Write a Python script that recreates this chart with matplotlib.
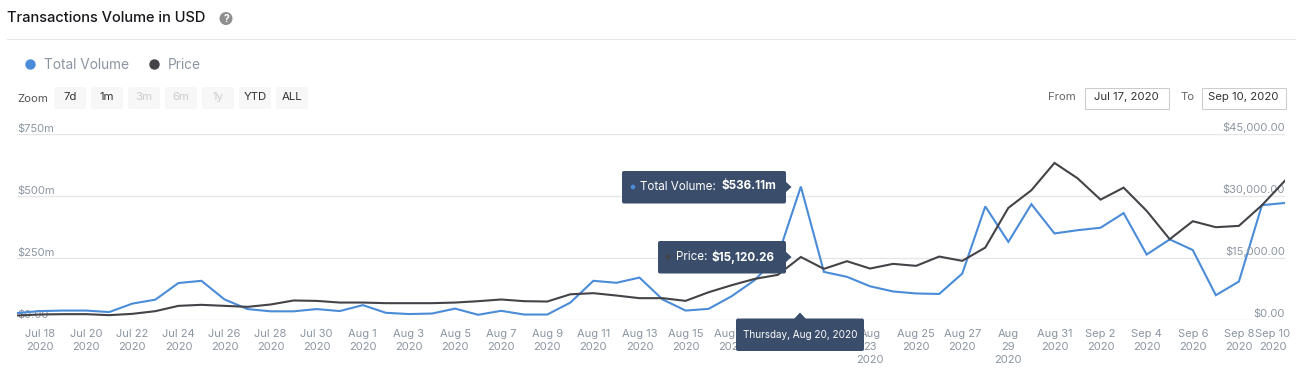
import matplotlib
matplotlib.use('Agg')
import matplotlib.pyplot as plt
import pandas as pd
from matplotlib.patches import Circle, Polygon, Rectangle, FancyBboxPatch
from matplotlib.transforms import ScaledTranslation

plt.rcParams['font.family'] = ['Inter', 'DejaVu Sans']

dates = pd.date_range('2020-07-17', '2020-09-10')

# millions of USD
total_volume = [26, 34, 36, 36, 30, 64, 80, 147, 156, 81, 42, 33, 33, 42, 34, 58, 27, 22,
                24, 44, 19, 35, 20, 20, 68, 156, 148, 169, 81, 36, 43, 94, 159, 255, 536,
                192, 172, 134, 113, 105, 103, 185, 456, 313, 465, 347, 360, 370, 429, 262,
                323, 280, 98, 153, 461, 470]

price = [970, 1210, 1290, 1290, 1050, 1370, 2015, 3300, 3550, 3300, 3060, 3630, 4600, 4500,
         4100, 4100, 3950, 3950, 3950, 4100, 4430, 4840, 4430, 4350, 6100, 6370, 5800, 5160,
         5160, 4510, 6600, 8300, 9830, 10800, 15120, 12250, 14100, 12330, 13460, 12980,
         15230, 14190, 17400, 27000, 31270, 37880, 34170, 29000, 31900, 26280, 19420, 23780,
         22330, 22650, 27650, 33600]

tick_dates = pd.date_range('2020-07-18', '2020-09-10', freq='2D')
tick_labels = ['Jul 18\n2020', 'Jul 20\n2020', 'Jul 22\n2020', 'Jul 24\n2020', 'Jul 26\n2020',
               'Jul 28\n2020', 'Jul 30\n2020', 'Aug 1\n2020', 'Aug 3\n2020', 'Aug 5\n2020',
               'Aug 7\n2020', 'Aug 9\n2020', 'Aug 11\n2020', 'Aug 13\n2020', 'Aug 15\n2020',
               'Aug 17\n2020', 'Aug 19\n2020', 'Aug 21\n2020', 'Aug\n23\n2020', 'Aug 25\n2020',
               'Aug 27\n2020', 'Aug\n29\n2020', 'Aug 31\n2020', 'Sep 2\n2020', 'Sep 4\n2020',
               'Sep 6\n2020', 'Sep 8\n2020', 'Sep 10\n2020']

left_ticks = [0, 250, 500, 750]
left_labels = ['$0.00', '$250m', '$500m', '$750m']
right_ticks = [0, 15000, 30000, 45000]
right_labels = ['$0.00', '$15,000.00', '$30,000.00', '$45,000.00']

BLUE = '#4a8cd8'
DARK = '#434348'
GREY = '#8b95a1'
TOOLTIP = '#3a4d6b'

W, H = 1301, 377
fig = plt.figure(figsize=(W / 100, H / 100), dpi=100)

ax = fig.add_axes([17 / W, 1 - 319.5 / H, (1285 - 17) / W, 186 / H])
ax2 = ax.twinx()

ax.plot(dates, total_volume, color=BLUE, lw=1.5, solid_joinstyle='miter', zorder=3)
ax2.plot(dates, price, color=DARK, lw=1.5, solid_joinstyle='miter', zorder=3)

ax.set_xlim(dates[0], dates[-1])
ax.set_ylim(0, 750)
ax2.set_ylim(0, 45000)

for s in ['top', 'left', 'right', 'bottom']:
    ax.spines[s].set_visible(False)
    ax2.spines[s].set_visible(False)

ax.set_xticks(tick_dates)
ax.set_xticklabels(tick_labels, fontsize=8, color=GREY, linespacing=1.38)
ax.tick_params(axis='x', length=0, pad=7)

ax.set_yticks(left_ticks)
ax.set_yticklabels(left_labels, fontsize=8, color=GREY, ha='left', va='bottom')
ax.tick_params(axis='y', length=0, pad=0)
ax.grid(True, axis='y', color='#e6e6e6', lw=1)
ax.set_axisbelow(True)

ax2.set_yticks(right_ticks)
ax2.set_yticklabels(right_labels, fontsize=8, color=GREY, ha='right', va='bottom')
ax2.tick_params(axis='y', length=0, pad=0)
for lab in ax.get_yticklabels():
    lab.set_x(0)
    lab.set_transform(lab.get_transform() + ScaledTranslation(0, -0.5 / 100, fig.dpi_scale_trans))
for lab in ax2.get_yticklabels():
    lab.set_transform(lab.get_transform() + ScaledTranslation(0, 0.5 / 100, fig.dpi_scale_trans))

# last label is pushed back inside the chart
last = ax.get_xticklabels()[-1]
last.set_transform(last.get_transform() + ScaledTranslation(-12 / 100, 0, fig.dpi_scale_trans))

# page furniture and tooltips, in pixels
ui = fig.add_axes([0, 0, 1, 1], zorder=10)
ui.set_xlim(0, W)
ui.set_ylim(H, 0)
ui.axis('off')
ui.patch.set_alpha(0)

ui.text(7, 18, 'Transactions Volume in USD', fontsize=10.55, color='#16181c', weight='medium', va='center')
ui.add_patch(Circle((226, 18.5), 6.5, color='#8f8f8f', lw=0))
ui.text(226, 18.5, '?', fontsize=7.5, color='white', weight='bold', ha='center', va='center')
ui.plot([7, 1295], [38.5, 38.5], color='#e4e7ea', lw=0.75)

ui.add_patch(Circle((30.5, 64.5), 5.2, color=BLUE, lw=0))
ui.text(44, 65, 'Total Volume', fontsize=9.85, color=GREY, va='center')
ui.add_patch(Circle((154.5, 64.5), 5.2, color=DARK, lw=0))
ui.text(168, 65, 'Price', fontsize=9.85, color=GREY, va='center')

ui.text(17, 98.5, 'Zoom', fontsize=8.2, color='#555555', va='center')
buttons = ['7d', '1m', '3m', '6m', '1y', 'YTD', 'ALL']
for i, b in enumerate(buttons):
    x0 = 54 + 37 * i
    ui.add_patch(FancyBboxPatch((x0 + 1, 88), 30, 20, boxstyle='round,pad=1,rounding_size=2',
                                fc='#f7f7f7', ec='none'))
    c = '#cccccc' if b in ['3m', '6m', '1y'] else '#333333'
    ui.text(x0 + 16, 97.5, b, fontsize=8.2, color=c, ha='center', va='center')

ui.text(1048, 97, 'From', fontsize=8.2, color='#666666', va='center')
ui.text(1180, 97, 'To', fontsize=8.2, color='#666666', va='center')
ui.add_patch(Rectangle((1084.5, 87.5), 84, 21, fc='white', ec='#cccccc', lw=0.75))
ui.add_patch(Rectangle((1201.5, 87.5), 84, 21, fc='white', ec='#cccccc', lw=0.75))
ui.text(1126.5, 97, 'Jul 17, 2020', fontsize=8.2, color='#333333', ha='center', va='center')
ui.text(1243.5, 97, 'Sep 10, 2020', fontsize=8.2, color='#333333', ha='center', va='center')


def tip_box(x0, y0, x1, y1):
    ui.add_patch(FancyBboxPatch((x0 + 2, y0 + 2), x1 - x0 - 4, y1 - y0 - 4,
                                boxstyle='round,pad=2,rounding_size=2', fc=TOOLTIP, ec='none'))


tip_box(622, 171, 786, 203.5)
ui.add_patch(Polygon([(785, 181), (791.5, 187), (785, 193)], fc=TOOLTIP, ec='none'))
ui.add_patch(Circle((633, 187), 2.3, color=BLUE, lw=0))
ui.text(640, 186.5, 'Total Volume:', fontsize=8.4, color='white', va='center')
ui.text(776, 186.5, '$536.11m', fontsize=8.4, color='white', weight='bold', ha='right', va='center')

tip_box(658, 241, 786, 273.5)
ui.add_patch(Polygon([(785, 251), (791.5, 257), (785, 263)], fc=TOOLTIP, ec='none'))
ui.add_patch(Circle((668, 257), 2.3, color=DARK, lw=0))
ui.text(676, 256.5, 'Price:', fontsize=8.4, color='white', va='center')
ui.text(775, 256.5, '$15,120.26', fontsize=8.4, color='white', weight='bold', ha='right', va='center')

tip_box(736, 318.5, 864, 351)
ui.add_patch(Polygon([(794, 319), (800, 312.5), (806, 319)], fc=TOOLTIP, ec='none'))
ui.text(800, 334.5, 'Thursday, Aug 20, 2020', fontsize=7.15, color='white', ha='center', va='center')

plt.savefig('out.png', dpi=100)
